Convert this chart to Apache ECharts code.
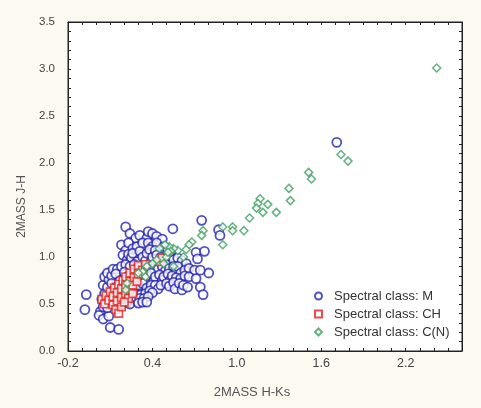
<!DOCTYPE html>
<html>
<head>
<meta charset="utf-8">
<script src="https://cdn.jsdelivr.net/npm/echarts@6/dist/echarts.min.js"></script>
<style>
  html, body { margin: 0; padding: 0; background: #fcf9f0; }
  #chart { width: 481px; height: 408px; }
</style>
</head>
<body>
<div id="chart"></div>
<script>
var seriesNames = ['Spectral class: M', 'Spectral class: CH', 'Spectral class: C(N)'];
var seriesSymbols = ['circle', 'rect', 'diamond'];
var xTickLabels = ['-0.2', '0.4', '1.0', '1.6', '2.2'];
var yTickLabels = ['0.0', '0.5', '1.0', '1.5', '2.0', '2.5', '3.0', '3.5'];

// [H-Ks, J-H]
var mClass = [
  [-0.08, 0.44], [-0.07, 0.60], [0.03, 0.42], [0.02, 0.38], [0.05, 0.34], [0.09, 0.37], [0.05, 0.47], [0.10, 0.25], [0.16, 0.23], [0.08, 0.46],
  [0.04, 0.55], [0.07, 0.52], [0.06, 0.61], [0.05, 0.70], [0.08, 0.68], [0.06, 0.79], [0.09, 0.76], [0.08, 0.83], [0.11, 0.80], [0.11, 0.72],
  [0.12, 0.87], [0.15, 0.87], [0.14, 0.82], [0.14, 0.68], [0.17, 0.62],
  [0.21, 1.32], [0.24, 1.25], [0.28, 1.20], [0.31, 1.23], [0.36, 1.20], [0.37, 1.27], [0.40, 1.25], [0.43, 1.22], [0.47, 1.19],
  [0.18, 1.13], [0.21, 1.07], [0.23, 1.15], [0.26, 1.09], [0.29, 1.11], [0.33, 1.15], [0.37, 1.15], [0.40, 1.11], [0.43, 1.15], [0.46, 1.07],
  [0.48, 1.11], [0.51, 1.08], [0.53, 1.05],
  [0.19, 1.02], [0.22, 0.97], [0.23, 1.03], [0.25, 0.99], [0.26, 1.04], [0.29, 0.95], [0.31, 1.06], [0.33, 1.00], [0.35, 0.96], [0.36, 1.04],
  [0.38, 1.08], [0.39, 0.95], [0.40, 1.00], [0.42, 1.07], [0.43, 1.02], [0.45, 0.94], [0.46, 1.00], [0.49, 0.98], [0.50, 0.93], [0.52, 1.01],
  [0.55, 0.97], [0.58, 0.99], [0.61, 0.96], [0.64, 0.93],
  [0.18, 0.90], [0.21, 0.92], [0.24, 0.90], [0.27, 0.92], [0.30, 0.89], [0.34, 0.88], [0.37, 0.90], [0.41, 0.88], [0.44, 0.87], [0.47, 0.90],
  [0.49, 0.85], [0.52, 0.88], [0.55, 0.90], [0.57, 0.85], [0.58, 0.90], [0.60, 0.83], [0.63, 0.86], [0.66, 0.88],
  [0.17, 0.75], [0.20, 0.84], [0.20, 0.70], [0.23, 0.80], [0.26, 0.75], [0.29, 0.80], [0.27, 0.68], [0.33, 0.82], [0.35, 0.76], [0.36, 0.80],
  [0.39, 0.83], [0.41, 0.75], [0.42, 0.79], [0.45, 0.81], [0.47, 0.75], [0.48, 0.79], [0.51, 0.82], [0.53, 0.76], [0.54, 0.80], [0.57, 0.78],
  [0.60, 0.77], [0.63, 0.80],
  [0.30, 0.70], [0.33, 0.72], [0.36, 0.67], [0.39, 0.70], [0.42, 0.70], [0.44, 0.66], [0.46, 0.70], [0.50, 0.72], [0.52, 0.69], [0.55, 0.73],
  [0.56, 0.66], [0.59, 0.72], [0.61, 0.65], [0.62, 0.70], [0.65, 0.68],
  [0.26, 0.62], [0.29, 0.60], [0.32, 0.60], [0.35, 0.61], [0.38, 0.64], [0.40, 0.62], [0.25, 0.55], [0.28, 0.53], [0.31, 0.56], [0.34, 0.56],
  [0.37, 0.58], [0.22, 0.52], [0.19, 0.50], [0.24, 0.50], [0.30, 0.51], [0.33, 0.52], [0.36, 0.52],
  [0.545, 1.30], [0.75, 1.39], [0.87, 1.29], [0.88, 1.23], [0.71, 1.05], [0.77, 1.06], [0.72, 0.98], [0.80, 0.83], [0.70, 0.86], [0.74, 0.86],
  [0.66, 0.79], [0.71, 0.77], [0.74, 0.68], [0.76, 0.60],
  [1.71, 2.22]
];

var chClass = [
  [0.04, 0.55], [0.06, 0.50], [0.07, 0.59], [0.09, 0.54], [0.10, 0.63], [0.12, 0.49], [0.12, 0.58], [0.13, 0.67], [0.14, 0.44], [0.15, 0.53],
  [0.15, 0.62], [0.16, 0.71], [0.16, 0.40], [0.18, 0.47], [0.18, 0.57], [0.18, 0.66], [0.19, 0.75], [0.21, 0.61], [0.21, 0.70], [0.21, 0.79],
  [0.23, 0.56], [0.24, 0.65], [0.24, 0.74], [0.24, 0.83], [0.26, 0.70], [0.27, 0.78], [0.27, 0.87], [0.29, 0.74], [0.30, 0.82], [0.30, 0.91],
  [0.33, 0.86], [0.35, 0.92], [0.45, 0.95], [0.47, 0.99], [0.20, 0.52], [0.26, 0.61]
];

var cnClass = [
  [2.42, 3.01], [1.74, 2.09], [1.79, 2.02], [1.51, 1.90], [1.53, 1.83], [1.37, 1.73], [1.38, 1.60], [1.165, 1.62], [1.15, 1.57], [1.22, 1.56],
  [1.14, 1.52], [1.185, 1.475], [1.28, 1.475], [1.09, 1.415], [1.05, 1.28], [0.97, 1.32], [0.97, 1.28], [0.90, 1.32], [0.90, 1.13], [0.76, 1.28],
  [0.75, 1.23], [0.68, 1.16], [0.66, 1.13], [0.64, 1.08], [0.62, 1.00], [0.58, 1.07], [0.55, 1.09], [0.52, 1.11], [0.49, 1.13], [0.55, 0.90],
  [0.45, 1.09], [0.43, 0.97], [0.40, 0.93], [0.36, 0.90], [0.33, 0.84], [0.30, 0.83], [0.35, 0.79], [0.22, 0.72], [0.21, 0.65], [0.50, 1.00],
  [0.48, 0.93], [0.53, 1.06], [0.51, 1.05]
];

var chart = echarts.init(document.getElementById('chart'));

function frameAxis(pos, min, max, labels, isMain) {
  return {
    type: 'value',
    position: pos,
    min: min,
    max: max,
    interval: 0.1,
    axisLine: { show: true, onZero: false, lineStyle: { color: '#222', width: 1 } },
    axisTick: { show: true, inside: true, length: 3, lineStyle: { color: '#222' } },
    splitLine: { show: false },
    axisLabel: {
      show: isMain,
      formatter: function (v) {
        var s = v.toFixed(1);
        return labels.indexOf(s) >= 0 ? s : '';
      }
    }
  };
}

var xMain = frameAxis('bottom', -0.2, 2.6, xTickLabels, true);
xMain.axisLabel.color = '#444';
xMain.axisLabel.fontSize = 12.5;
xMain.axisLabel.fontFamily = 'Arial';
xMain.axisLabel.margin = 6;
xMain.name = '2MASS H-Ks';
xMain.nameLocation = 'middle';
xMain.nameGap = 35;
xMain.nameTextStyle = { color: '#555', fontSize: 13, fontFamily: 'Arial', padding: [0, 26, 0, 0] };

var yMain = frameAxis('left', 0, 3.5, yTickLabels, true);
yMain.axisLabel.color = '#444';
yMain.axisLabel.fontSize = 11.5;
yMain.axisLabel.fontFamily = 'Arial';
yMain.axisLabel.margin = 13;
yMain.name = '2MASS J-H';
yMain.nameLocation = 'middle';
yMain.nameGap = 28;
yMain.nameTextStyle = { color: '#555', fontSize: 12, fontFamily: 'Arial', padding: [0, 40, 0, 0] };

var option = {
  backgroundColor: '#fcf9f0',
  animation: false,
  grid: {
    left: 68, right: 19, top: 22, bottom: 57,
    show: true, backgroundColor: '#fff', borderColor: '#222', borderWidth: 1
  },
  legend: {
    orient: 'vertical',
    left: 309,
    top: 284,
    itemWidth: 7,
    itemHeight: 7,
    itemGap: 4,
    textStyle: { color: '#333', fontSize: 13, fontFamily: 'Arial', lineHeight: 14, padding: [0, 0, 0, 7] },
    data: seriesNames.map(function (n, i) { return { name: n, icon: seriesSymbols[i] }; })
  },
  xAxis: [xMain, frameAxis('top', -0.2, 2.6, xTickLabels, false)],
  yAxis: [yMain, frameAxis('right', 0, 3.5, yTickLabels, false)],
  series: [
    {
      name: seriesNames[0],
      type: 'scatter',
      symbol: seriesSymbols[0],
      symbolSize: 9,
      itemStyle: { color: '#fff', borderColor: '#2424b2', borderWidth: 1.8 },
      data: mClass
    },
    {
      name: seriesNames[1],
      type: 'scatter',
      symbol: seriesSymbols[1],
      symbolSize: 7.5,
      itemStyle: { color: '#fff', borderColor: '#e3221e', borderWidth: 1.7 },
      data: chClass
    },
    {
      name: seriesNames[2],
      type: 'scatter',
      symbol: seriesSymbols[2],
      symbolSize: 8,
      itemStyle: { color: '#fff', borderColor: '#3f9f62', borderWidth: 1.5 },
      data: cnClass
    }
  ]
};
chart.setOption(option);
</script>
</body>
</html>
